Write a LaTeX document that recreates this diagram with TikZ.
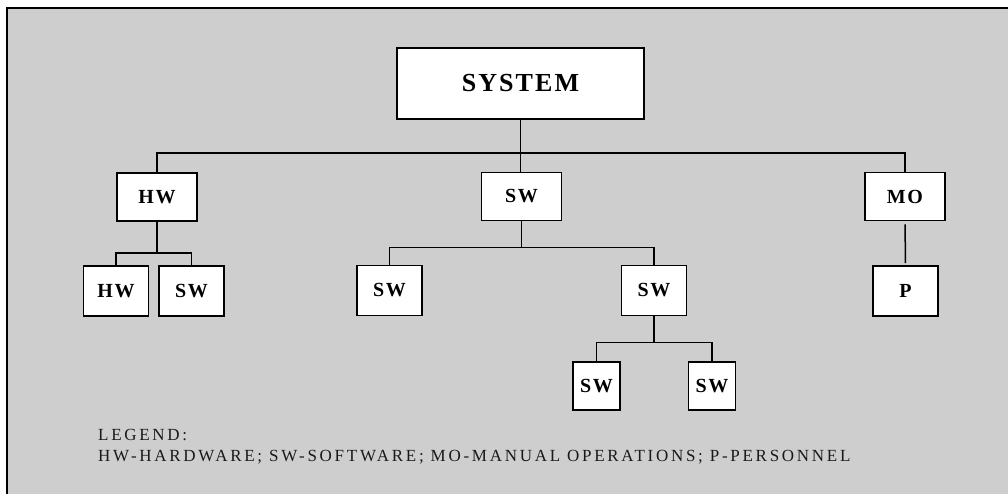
\documentclass[tikz,border=0pt]{standalone}
\usepackage{fontspec}
\setmainfont{Liberation Serif}
\newfontfamily\boxfont[LetterSpace=8]{Liberation Serif}
\newfontfamily\legendfont[LetterSpace=16]{Liberation Serif}
\usetikzlibrary{positioning}

\definecolor{panel}{RGB}{206,206,206}

\tikzset{
  unit/.style = {draw, fill=white, line width=1.6pt, inner sep=0pt,
                 font=\boxfont\bfseries\fontsize{20}{20}\selectfont},
  wide/.style = {unit, minimum width=80pt, minimum height=48pt},
  narrow/.style = {unit, minimum width=65pt, minimum height=50pt},
  tiny/.style = {unit, minimum width=47pt, minimum height=48pt},
  link/.style = {line width=1.5pt},
  legendtext/.style = {anchor=base west, inner sep=0pt, text=black!90,
                       font=\legendfont\fontsize{17}{17}\selectfont}
}

\begin{document}
\begin{tikzpicture}[x=1pt, y=-1pt]
      \useasboundingbox (0,0) rectangle (1008,494);
      % panel
      \fill[panel] (7,8) rectangle (1008,494);
      \draw[line width=2pt] (7,494) -- (7,8) -- (1008,8);

      % boxes
      \node[unit, minimum width=247pt, minimum height=71pt,
            font=\boxfont\bfseries\fontsize{26}{26}\selectfont] (sys) at (520.5,83.5) {SYSTEM};
      \node[wide] (hw) at (157,197) {HW};
      \node[wide] (sw) at (521.5,196.5) {SW};
      \node[wide] (mo) at (905,196.5) {MO};
      \node[narrow] (hwhw) at (116,291) {HW};
      \node[narrow] (hwsw) at (191.5,291) {SW};
      \node[narrow] (swsw) at (389.5,290.5) {SW};
      \node[narrow] (swsub) at (654,290.5) {SW};
      \node[narrow] (p) at (905.5,291) {P};
      \node[tiny] (subsw) at (596.5,386) {SW};
      \node[tiny] (subsw2) at (712,386) {SW};

      % connectors
      \draw[link] (sys.south) -- (sys.south |- sw.north);
      \draw[link] (hw.north) -- ++(0,-19) -| (mo.north);
      \draw[link] (hw.south) -- ++(0,31) coordinate (hwbus);
      \draw[link] (hwhw.north) |- (hwbus) -| (hwsw.north);
      \draw[link] (sw.south) -- ++(0,26) coordinate (swbus);
      \draw[link] (swsw.north) |- (swbus) -| (swsub.north);
      \draw[link] (swsub.south) -- ++(0,26) coordinate (subbus);
      \draw[link] (subsw.north) |- (subbus) -| (subsw2.north);
      \draw[link, shorten <=3pt, shorten >=2pt] (mo.south) -- (p.north);

      % legend
      \node[legendtext] (legend) at (98,440) {LEGEND:};
      \node[legendtext] (legendkey) at (98,461)
            {HW-HARDWARE; SW-SOFTWARE; MO-MANUAL OPERATIONS; P-PERSONNEL};
\end{tikzpicture}
\end{document}
